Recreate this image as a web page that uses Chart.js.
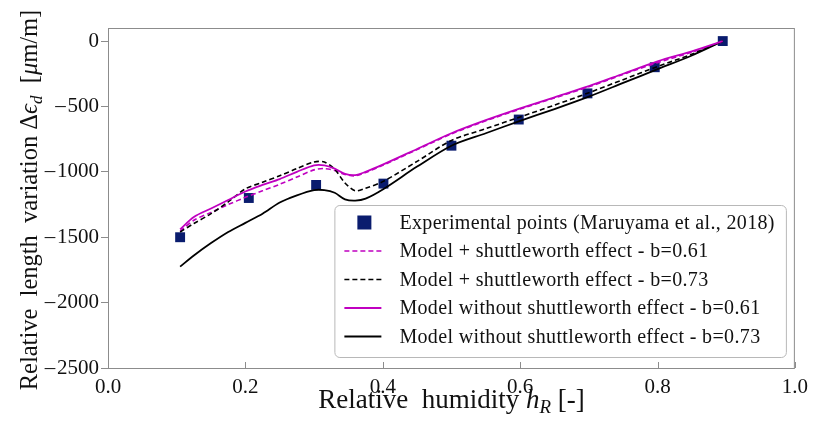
<!DOCTYPE html>
<html>
<head>
<meta charset="utf-8">
<script src="https://cdn.jsdelivr.net/npm/chart.js@4.4.1/dist/chart.umd.min.js"></script>
<style>
  html, body { margin: 0; padding: 0; background: #fff; }
  #wrap { width: 815px; height: 421px; }
</style>
</head>
<body>
<div id="wrap"><canvas id="chart" width="815" height="421"></canvas></div>
<script>
// ---- data ----
const expH   = [0.105, 0.205, 0.303, 0.401, 0.5, 0.598, 0.698, 0.796, 0.895];
const expVal = [-1500, -1200, -1100, -1090, -800, -600, -400, -200, 0];

const modelH = [0.105, 0.125, 0.15, 0.175, 0.2, 0.225, 0.25, 0.275, 0.3, 0.315, 0.33, 0.345,
                0.36, 0.375, 0.4, 0.45, 0.5, 0.55, 0.6, 0.65, 0.7, 0.75, 0.8, 0.85, 0.895];
// Model + shuttleworth, b=0.61 (magenta dashed)
const shutt061 = [-1455, -1370, -1310, -1250, -1195, -1145, -1095, -1040, -985, -975, -990, -1020,
                  -1030, -1005, -950, -830, -710, -610, -520, -435, -350, -255, -165, -85, -5];
// Model + shuttleworth, b=0.73 (black dashed)
const shutt073 = [-1460, -1395, -1320, -1230, -1130, -1080, -1030, -975, -925, -925, -980, -1085,
                  -1145, -1125, -1075, -920, -760, -670, -580, -490, -395, -295, -195, -100, 0];
// Model without shuttleworth, b=0.61 (magenta solid)
const noShutt061 = [-1440, -1345, -1280, -1215, -1150, -1100, -1055, -1000, -950, -950, -975, -1015,
                    -1025, -1000, -945, -825, -705, -605, -515, -430, -345, -250, -155, -78, 0];
// Model without shuttleworth, b=0.73 (black solid)
const noShutt073 = [-1725, -1640, -1545, -1460, -1390, -1320, -1235, -1180, -1140, -1140, -1160, -1210,
                    -1220, -1205, -1135, -960, -800, -705, -610, -520, -425, -320, -215, -110, 0];

const xTicks = [0.0, 0.2, 0.4, 0.6, 0.8, 1.0];
const yTicks = [0, -500, -1000, -1500, -2000, -2500];

const SERIF = "'Liberation Serif', 'DejaVu Serif', serif";
const NAVY = '#0a1c6e';
const MAGENTA = '#c000c0';
const FRAME = '#8c8c8c';

const pts = (xs, ys) => xs.map((x, i) => ({ x, y: ys[i] }));

const datasets = [
  { label: 'Experimental points (Maruyama et al., 2018)', data: pts(expH, expVal),
    showLine: false, pointStyle: 'rect', pointRadius: 7, pointHoverRadius: 7,
    backgroundColor: NAVY, borderColor: NAVY, borderWidth: 0, order: 10 },
  { label: 'Model + shuttleworth effect - b=0.61', data: pts(modelH, shutt061),
    showLine: true, borderColor: MAGENTA, borderWidth: 1.6, borderDash: [5, 3],
    pointRadius: 0, tension: 0.3, order: 4 },
  { label: 'Model + shuttleworth effect - b=0.73', data: pts(modelH, shutt073),
    showLine: true, borderColor: '#000', borderWidth: 1.6, borderDash: [5, 3],
    pointRadius: 0, tension: 0.3, order: 2 },
  { label: 'Model without shuttleworth effect - b=0.61', data: pts(modelH, noShutt061),
    showLine: true, borderColor: MAGENTA, borderWidth: 1.8,
    pointRadius: 0, tension: 0.3, order: 1 },
  { label: 'Model without shuttleworth effect - b=0.73', data: pts(modelH, noShutt073),
    showLine: true, borderColor: '#000', borderWidth: 1.8,
    pointRadius: 0, tension: 0.3, order: 3 }
];

// draw a run of text pieces: [text, italic, subscript]
function drawRich(ctx, parts, size) {
  const widthOf = p => {
    ctx.font = (p[1] ? 'italic ' : '') + (p[2] ? size * 0.7 : size) + 'px ' + SERIF;
    return ctx.measureText(p[0]).width;
  };
  const total = parts.reduce((s, p) => s + widthOf(p), 0);
  let x = -total / 2;
  parts.forEach(p => {
    const w = widthOf(p);
    ctx.fillText(p[0], x, p[2] ? size * 0.25 : 0);
    x += w;
  });
}

const framePlugin = {
  id: 'frame',
  afterDraw(chart) {
    const { ctx, chartArea: a, scales } = chart;
    ctx.save();
    // frame
    ctx.strokeStyle = FRAME;
    ctx.lineWidth = 1;
    ctx.strokeRect(a.left + 0.5, a.top + 0.5, a.right - a.left - 1, a.bottom - a.top);
    // inward x ticks
    xTicks.forEach(v => {
      const px = Math.round(scales.x.getPixelForValue(v)) + 0.5;
      ctx.beginPath();
      ctx.moveTo(px, a.bottom);
      ctx.lineTo(px, a.bottom - 6);
      ctx.stroke();
    });

    // axis titles
    ctx.fillStyle = '#111';
    ctx.textBaseline = 'middle';
    ctx.textAlign = 'left';
    ctx.save();
    ctx.translate((a.left + a.right) / 2, 401);
    drawRich(ctx, [['Relative  humidity ', false, false], ['h', true, false], ['R', true, true], [' [-]', false, false]], 27);
    ctx.restore();
    ctx.save();
    ctx.translate(31, (a.top + a.bottom) / 2 + 2);
    ctx.rotate(-Math.PI / 2);
    drawRich(ctx, [['Relative  length  variation Δ', false, false], ['ϵ', true, false], ['d', true, true],
                   ['  [', false, false], ['μ', true, false], ['m/m]', false, false]], 24.5);
    ctx.restore();

    // legend box
    const fs = 20, rowH = 28.5;
    ctx.font = fs + 'px ' + SERIF;
    ctx.letterSpacing = '0.35px';
    const tw = Math.max(...datasets.map(d => ctx.measureText(d.label).width));
    const bw = 65 + tw + 11, bh = 152;
    const bx = a.right - 9 - bw, by = a.bottom - 11 - bh;
    ctx.beginPath();
    ctx.roundRect(bx + 0.5, by + 0.5, bw, bh, 5);
    ctx.fillStyle = 'rgba(255,255,255,0.9)';
    ctx.fill();
    ctx.strokeStyle = '#b8b8b8';
    ctx.stroke();
    datasets.forEach((d, i) => {
      const cy = by + 17.5 + i * rowH;
      if (!d.showLine) {
        ctx.fillStyle = d.backgroundColor;
        ctx.fillRect(bx + 23, cy - 7, 14, 14);
      } else {
        ctx.strokeStyle = d.borderColor;
        ctx.lineWidth = d.borderWidth;
        ctx.setLineDash(d.borderDash || []);
        ctx.beginPath();
        ctx.moveTo(bx + 10, cy);
        ctx.lineTo(bx + 47, cy);
        ctx.stroke();
        ctx.setLineDash([]);
      }
      ctx.fillStyle = '#111';
      ctx.font = fs + 'px ' + SERIF;
      ctx.textBaseline = 'middle';
      ctx.fillText(d.label, bx + 65, cy + 1);
    });
    ctx.letterSpacing = '0px';
    ctx.restore();
  }
};

new Chart(document.getElementById('chart'), {
  type: 'scatter',
  data: { datasets },
  plugins: [framePlugin],
  options: {
    responsive: false,
    animation: false,
    layout: { padding: { left: 0, right: 18, top: 28, bottom: 0 } },
    plugins: { legend: { display: false }, tooltip: { enabled: false } },
    scales: {
      x: {
        type: 'linear', min: 0, max: 1,
        afterFit: s => { s.height = 53; },
        afterBuildTicks: s => { s.ticks = xTicks.map(v => ({ value: v })); },
        grid: { display: false, drawTicks: false },
        border: { display: false },
        ticks: { color: '#111', padding: 7, font: { family: SERIF, size: 21 },
                 maxRotation: 0, callback: v => v.toFixed(1) }
      },
      y: {
        type: 'linear', min: -2500, max: 100,
        afterFit: s => { s.width = 108; },
        afterBuildTicks: s => { s.ticks = yTicks.map(v => ({ value: v })); },
        grid: { drawOnChartArea: false, tickLength: 7, color: FRAME },
        border: { display: false },
        ticks: { color: '#111', padding: 2, font: { family: SERIF, size: 21 },
                 callback: v => (v < 0 ? '\u2013\u200a' + Math.abs(v) : String(v)) }
      }
    }
  }
});
</script>
</body>
</html>
